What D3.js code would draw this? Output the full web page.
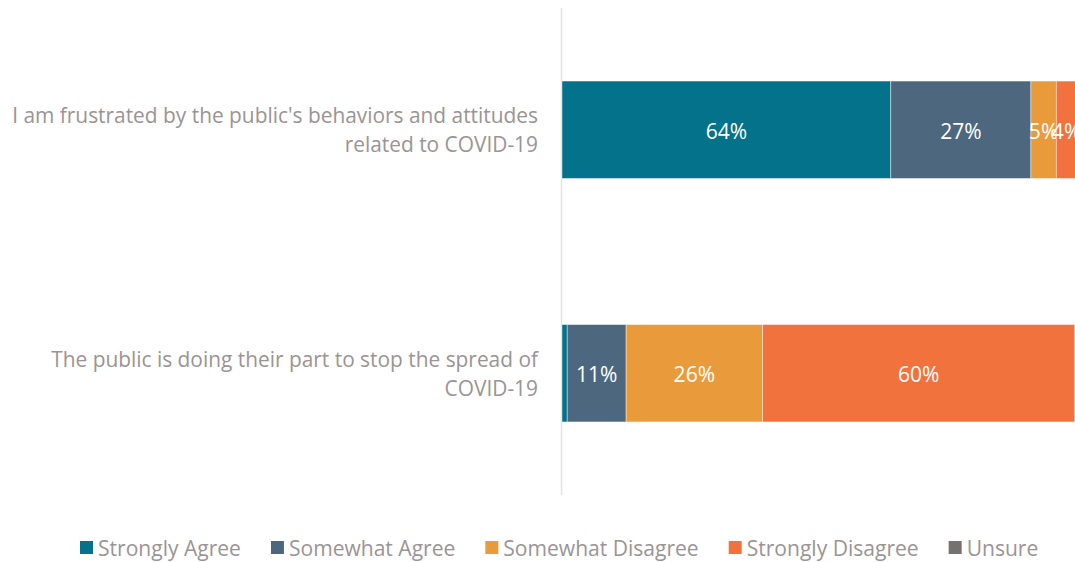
<!DOCTYPE html>
<html><head><meta charset="utf-8">
<script src="https://cdn.jsdelivr.net/npm/d3@7"></script>
<style>html,body{margin:0;padding:0;background:#fff;overflow:hidden}svg{display:block}</style>
</head><body>
<script>
const categories = [
  ["I am frustrated by the public's behaviors and attitudes", "related to COVID-19"],
  ["The public is doing their part to stop the spread of", "COVID-19"]
];
const seriesNames = ["Strongly Agree","Somewhat Agree","Somewhat Disagree","Strongly Disagree","Unsure"];
const seriesColors = ["#04728A","#4D687E","#E99B3C","#F2723D","#767171"];
const stronglyAgree = [63.6, 1.0];
const somewhatAgree = [27.1, 11.4];
const somewhatDisagree = [4.9, 26.4];
const stronglyDisagree = [4.0, 60.4];
const unsure = [0.4, 0.8];

const W = 1075, H = 562;
const font = "'Open Sans', sans-serif";
const textGray = "#9A9495";
const svg = d3.select("body").append("svg").attr("width", W).attr("height", H);

// fit font size so text widths match the reference layout
function fitSize(str, target) {
  const t = svg.append("text").attr("font-family", font).attr("font-size", 20).text(str);
  const w = t.node().getComputedTextLength();
  t.remove();
  return 20 * target / w;
}
const catSize = fitSize(categories[0][0], 526);
const legSize = fitSize("Strongly Agree", 143);

const series = [stronglyAgree, somewhatAgree, somewhatDisagree, stronglyDisagree, unsure];
const rows = categories.map((c, i) => {
  const r = {idx: i};
  seriesNames.forEach((s, j) => r[s] = series[j][i]);
  return r;
});
const stack = d3.stack().keys(seriesNames)(rows);

const x = d3.scaleLinear().domain([0, 100]).range([562, 1079]);
const y = d3.scaleBand().domain(d3.range(categories.length)).range([8, 495]).paddingInner(0.6).paddingOuter(0.3);

// axis line
svg.append("line").attr("x1", x(0) - 0.5).attr("x2", x(0) - 0.5).attr("y1", 8).attr("y2", 495)
  .attr("stroke", "#E3E3E3").attr("stroke-width", 1.5);

const g = svg.append("g");
stack.forEach((layer, j) => {
  layer.forEach((d, i) => {
    const v = d[1] - d[0];
    if (v <= 0) return;
    g.append("rect").attr("x", x(d[0])).attr("y", y(i)).attr("width", x(d[1]) - x(d[0])).attr("height", y.bandwidth())
      .attr("fill", seriesColors[j]).attr("stroke", "#fff").attr("stroke-width", 0.6).attr("stroke-opacity", 0.7);
    if (v >= 3) {
      g.append("text").attr("x", (x(d[0]) + x(d[1])) / 2).attr("y", y(i) + y.bandwidth() / 2 + 1)
        .attr("text-anchor", "middle").attr("dominant-baseline", "central")
        .attr("font-family", font).attr("font-size", legSize).attr("fill", "#fff").text(Math.round(v) + "%");
    }
  });
});

// category labels
categories.forEach((lines, i) => {
  const cy = y(i) + y.bandwidth() / 2;
  const t = svg.append("text").attr("text-anchor", "end").attr("font-family", font).attr("font-size", catSize).attr("fill", textGray);
  lines.forEach((ln, k) => {
    t.append("tspan").attr("x", 538).attr("y", cy - 14.5 + k * 29).attr("dominant-baseline", "central").text(ln);
  });
});

// legend
const lg = svg.append("g");
let lx = 80;
seriesNames.forEach((s, j) => {
  lg.append("rect").attr("x", lx).attr("y", 541).attr("width", 13).attr("height", 13).attr("fill", seriesColors[j]);
  const t = lg.append("text").attr("x", lx + 18).attr("y", 548).attr("dominant-baseline", "central")
    .attr("font-family", font).attr("font-size", legSize).attr("fill", textGray).text(s);
  lx += 18 + t.node().getComputedTextLength() + 30;
});
</script>
</body></html>
